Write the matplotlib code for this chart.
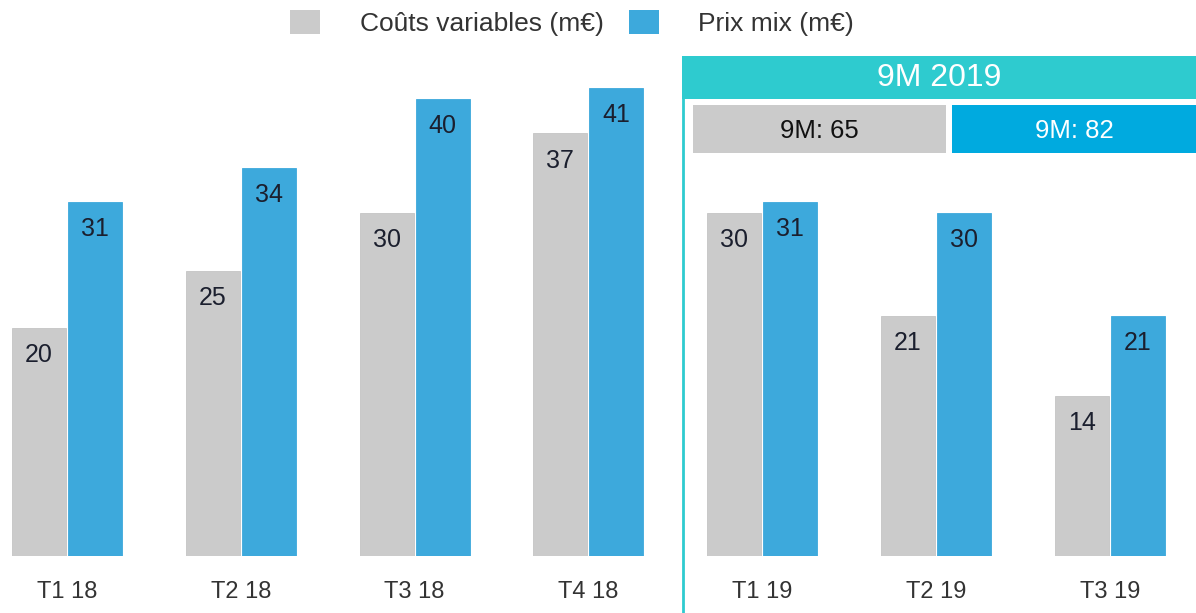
import matplotlib
matplotlib.use("Agg")
import matplotlib.pyplot as plt
import numpy as np
from matplotlib.patches import Rectangle, Patch
from matplotlib.lines import Line2D

plt.rcParams['font.family'] = ['Liberation Sans', 'DejaVu Sans']

# ---- data ----
periods = ["T1 18", "T2 18", "T3 18", "T4 18", "T1 19", "T2 19", "T3 19"]
couts = [20, 25, 30, 37, 30, 21, 14]
prix = [31, 34, 40, 41, 31, 30, 21]
series_names = ["Coûts variables (m€)", "Prix mix (m€)"]
header_title = "9M 2019"
total_labels = ["9M: 65", "9M: 82"]

# ---- style ----
GRAY = "#CBCBCB"
BLUE = "#3DA9DC"
TEAL = "#2ECBCF"
BOX_BLUE = "#00AADF"
LABEL_COL = "#1B1F2E"
TEXT_COL = "#333333"

W, H = 1196, 613
fig = plt.figure(figsize=(W / 100, H / 100), dpi=100)

def fx(x):
    return x / W

def fy(y):
    return 1 - y / H

base_px = 556
ax = fig.add_axes([0, fy(base_px), 1, base_px / H])
px_per_unit = 11.42
unit = 173.8
x0 = 67
ax.set_xlim(-x0 / unit, (W - x0) / unit)
ax.set_ylim(0, base_px / px_per_unit)

x = np.arange(len(periods))
bw = 0.31
off = 0.161
b1 = ax.bar(x - off, couts, bw, color=GRAY, edgecolor="#C4C4C4", linewidth=0.6)
b2 = ax.bar(x + off, prix, bw, color=BLUE, edgecolor=BLUE, linewidth=0.6)

for bars, vals in ((b1, couts), (b2, prix)):
    for r, v in zip(bars, vals):
        ax.annotate(str(v), (r.get_x() + r.get_width() / 2, v),
                    xytext=(0, -19.5), textcoords="offset points",
                    ha="center", va="center", fontsize=18,
                    color=LABEL_COL)

ax.set_xticks(x)
ax.set_xticklabels(periods, fontsize=17, color=TEXT_COL)
ax.tick_params(axis="x", length=0, pad=18)
ax.set_yticks([])
for s in ax.spines.values():
    s.set_visible(False)
ax.patch.set_alpha(0)

# ---- 9M 2019 header panel ----
div_x = 683
fig.add_artist(Line2D([fx(div_x), fx(div_x)], [fy(98), 0], color=TEAL,
                      linewidth=2, transform=fig.transFigure))
fig.add_artist(Rectangle((fx(div_x - 1), fy(99)), fx(W - div_x + 1), (99 - 56) / H,
                         facecolor=TEAL, edgecolor="none", transform=fig.transFigure))
fig.text(fx((div_x + W) / 2), fy(78), header_title, ha="center", va="center",
         fontsize=23, color="white")
fig.add_artist(Rectangle((fx(693), fy(153)), fx(946 - 693), (153 - 105) / H,
                         facecolor=GRAY, edgecolor="none", transform=fig.transFigure))
fig.add_artist(Rectangle((fx(952), fy(153)), fx(W - 952), (153 - 105) / H,
                         facecolor=BOX_BLUE, edgecolor="none", transform=fig.transFigure))
fig.text(fx((693 + 946) / 2), fy(131), total_labels[0], ha="center", va="center",
         fontsize=18.5, color="#111111")
fig.text(fx((952 + W) / 2), fy(131), total_labels[1], ha="center", va="center",
         fontsize=18.5, color="white")

# ---- legend ----
handles = [Patch(facecolor=GRAY, edgecolor="none"), Patch(facecolor=BLUE, edgecolor="none")]
leg = fig.legend(handles, series_names, loc="center", bbox_to_anchor=(fx(572), fy(23)),
                 ncol=2, frameon=False, fontsize=19, handlelength=1.14, handleheight=1.05,
                 handletextpad=1.5, columnspacing=0.95, borderaxespad=0, borderpad=0)
for t in leg.get_texts():
    t.set_color(TEXT_COL)

fig.savefig("out.png", dpi=100)
